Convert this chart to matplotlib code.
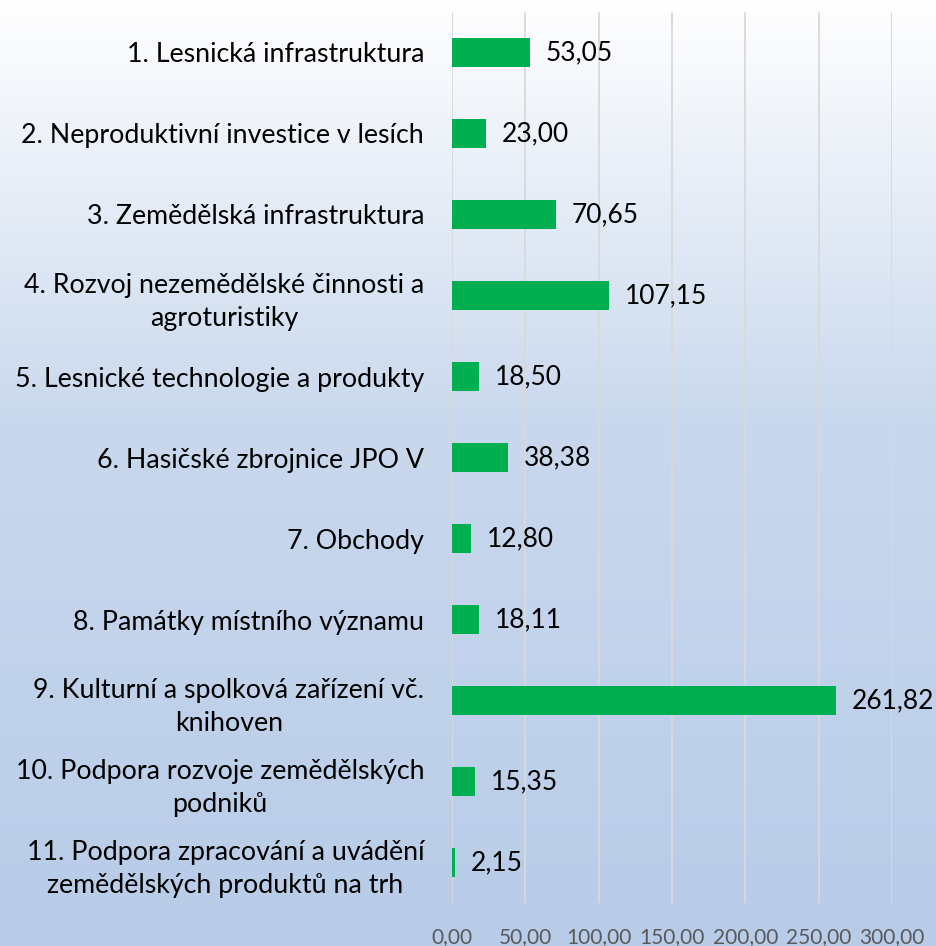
import numpy as np
import matplotlib
matplotlib.use("Agg")
import matplotlib.pyplot as plt
from matplotlib.colors import LinearSegmentedColormap

plt.rcParams['font.family'] = ['Lato', 'DejaVu Sans']

categories = [
    "1. Lesnická infrastruktura",
    "2. Neproduktivní investice v lesích",
    "3. Zemědělská infrastruktura",
    "4. Rozvoj nezemědělské činnosti a\nagroturistiky",
    "5. Lesnické technologie a produkty",
    "6. Hasičské zbrojnice JPO V",
    "7. Obchody",
    "8. Památky místního významu",
    "9. Kulturní a spolková zařízení vč.\nknihoven",
    "10. Podpora rozvoje zemědělských\npodniků",
    "11. Podpora zpracování a uvádění\nzemědělských produktů na trh",
]
values = [53.05, 23.00, 70.65, 107.15, 18.50, 38.38, 12.80, 18.11, 261.82, 15.35, 2.15]
xticks = [0, 50, 100, 150, 200, 250, 300]


def cz(v):
    return f"{v:.2f}".replace(".", ",")


fig = plt.figure(figsize=(9.36, 9.46), dpi=100)

# background gradient, white at top to light blue at bottom
bg = fig.add_axes([0, 0, 1, 1], zorder=-1)
cmap = LinearSegmentedColormap.from_list(
    "bg", [(0.0, "#ffffff"), (0.45, "#c9d8ed"), (1.0, "#b8cce8")])
grad = np.linspace(0, 1, 256).reshape(-1, 1)
bg.imshow(grad, aspect="auto", cmap=cmap, extent=[0, 1, 1, 0])
bg.axis("off")

ax = fig.add_axes([452 / 936, 1 - 903 / 946, 440 / 936, 891 / 946])
ax.set_facecolor("none")

y = np.arange(len(categories))
ax.barh(y, values, height=0.36, color="#00b050", zorder=3)
ax.set_xlim(0, 300)
ax.set_ylim(len(categories) - 0.5, -0.5)

ax.set_xticks(xticks)
ax.set_xticklabels([cz(t) for t in xticks], fontsize=15, color="#595959")
ax.set_yticks(y)
ax.set_yticklabels(categories, fontsize=19.3, color="black",
                   multialignment="center", linespacing=1.4)
ax.tick_params(axis="x", length=0, pad=17)
ax.tick_params(axis="y", length=0, pad=20)

ax.grid(axis="x", color="#d9d9d9", linewidth=1.3, zorder=0)
for s in ax.spines.values():
    s.set_visible(False)

for yi, v in zip(y, values):
    ax.annotate(cz(v), (v, yi), xytext=(11.5, 0), textcoords="offset points",
                va="center", ha="left", fontsize=19, color="black",
                annotation_clip=False)

fig.savefig("out.png", dpi=100)
